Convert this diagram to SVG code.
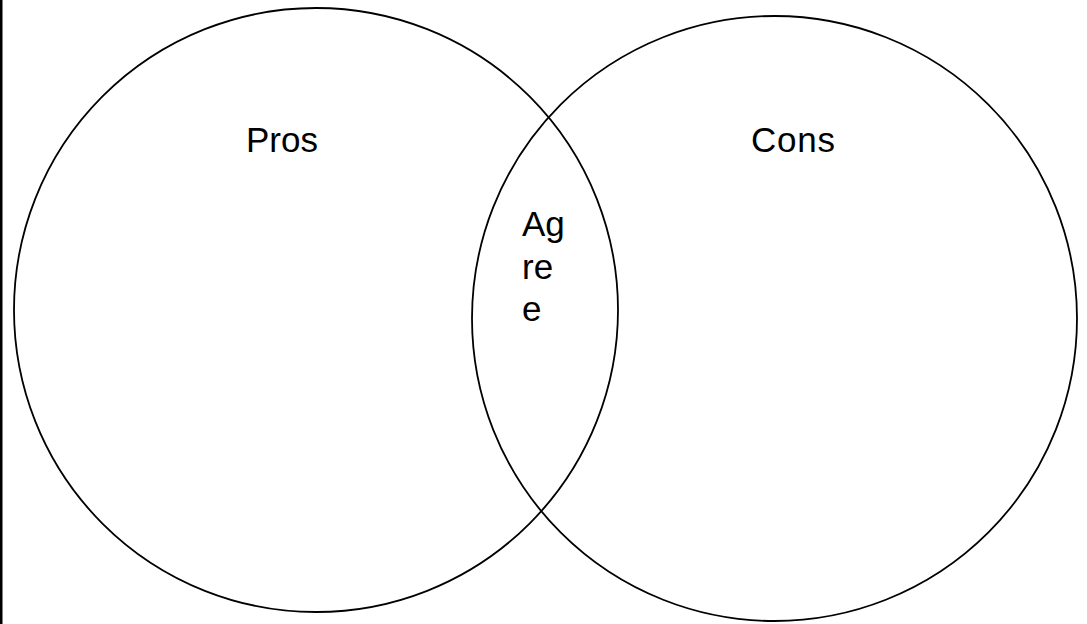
<svg xmlns="http://www.w3.org/2000/svg" width="1087" height="624" viewBox="0 0 1087 624">
<style>
.c{fill:none;stroke:#000;stroke-width:1.8}
.t{font-family:"Liberation Sans",Arial,sans-serif;font-size:35px;fill:#000}
</style>
<rect x="0" y="0" width="1087" height="624" fill="#fff"/>
<rect x="0" y="0" width="2.5" height="624" fill="#000"/>
<g id="pros">
<circle class="c" cx="316" cy="310" r="302"/>
<text class="t" x="246" y="152">Pros</text>
</g>
<g id="cons">
<circle class="c" cx="774.5" cy="318.5" r="302.5"/>
<text class="t" x="751" y="152" textLength="84">Cons</text>
</g>
<g id="agree">
<text class="t" x="522"><tspan x="522" y="236">Ag</tspan><tspan x="522" y="279">re</tspan><tspan x="522" y="321">e</tspan></text>
</g>
<g id="connectors"></g>
</svg>
